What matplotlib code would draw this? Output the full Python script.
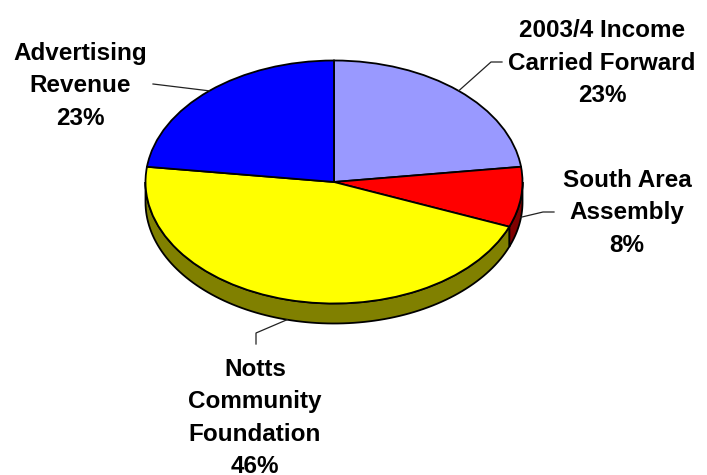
import numpy as np
import matplotlib.pyplot as plt

# chart data
labels = ['2003/4 Income\nCarried Forward\n23%', 'South Area\nAssembly\n8%',
          'Notts\nCommunity\nFoundation\n46%', 'Advertising\nRevenue\n23%']
shares = [23, 8, 46, 23]
top_colors = ['#9999FF', '#FF0000', '#FFFF00', '#0000FF']
side_colors = ['#4D4D80', '#800000', '#808000', '#000080']

# layout (pixels)
W, H = 707, 475
cx, cy, rx, ry, depth = 334, 182, 188.5, 121.5, 20
label_pos = [(602, 63), (627, 213), (255, 418), (80, 86)]
leader_pts = [[(491, 62), (502, 62)], [(543, 212), (554, 212)],
              [(256, 333), (256, 344)], [(153, 84)]]


def px(x, y):
    return (x - cx) / rx, (cy - y) / ry


dep = depth / ry
fig = plt.figure(figsize=(W / 100, H / 100), dpi=100)
ax = fig.add_axes([0, 0, 1, 1])

# slice boundaries, clockwise from 12 o'clock
cum = np.concatenate([[0], np.cumsum(shares)])
bounds = 90 - 360 * cum / 100.0

# side walls of the front half
for i in range(len(shares)):
    hi, lo = bounds[i], bounds[i + 1]
    for k in (-1, 0, 1):
        a, b = max(lo, -180 + 360 * k), min(hi, 0 + 360 * k)
        if b <= a:
            continue
        t = np.radians(np.linspace(a, b, 100))
        xs = np.concatenate([np.cos(t), np.cos(t[::-1])])
        ys = np.concatenate([np.sin(t), np.sin(t[::-1]) - dep])
        ax.fill(xs, ys, facecolor=side_colors[i], edgecolor='black', lw=1.3, zorder=1)

ax.pie(shares, colors=top_colors, startangle=90, counterclock=False, radius=1,
       wedgeprops=dict(edgecolor='black', linewidth=1.3, zorder=2))

ax.set_aspect('auto')
ax.set_xlim(-cx / rx, (W - cx) / rx)
ax.set_ylim((cy - H) / ry, cy / ry)
ax.axis('off')

# leader lines and labels
for i in range(len(shares)):
    mid = np.radians(90 - 360 * (cum[i] + shares[i] / 2.0) / 100.0)
    sx, sy = np.cos(mid), np.sin(mid)
    if sy < 0:
        sy -= dep
    pts = [(sx, sy)] + [px(*p) for p in leader_pts[i]]
    ax.plot([p[0] for p in pts], [p[1] for p in pts], color='#222222', lw=0.9, zorder=3)
    lx, ly = label_pos[i]
    fig.text(lx / W, 1 - ly / H, labels[i], ha='center', va='center',
             fontsize=17.5, fontweight='bold', family='Liberation Sans', linespacing=1.52)

fig.savefig('out.png', dpi=100)
